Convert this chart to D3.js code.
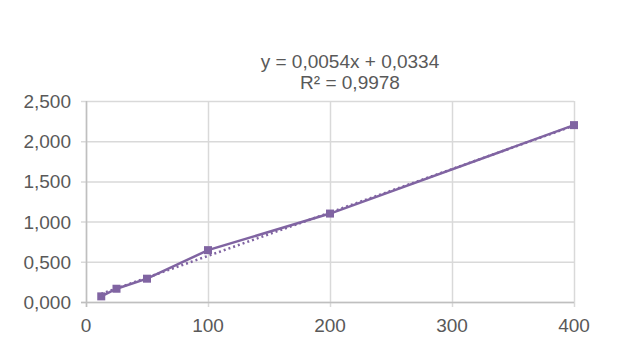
<!DOCTYPE html>
<html>
<head>
<meta charset="utf-8">
<script src="https://cdn.jsdelivr.net/npm/d3@7"></script>
<style>
body{margin:0;background:#fff;}
text{font-family:"Liberation Sans",Arial,sans-serif;}
</style>
</head>
<body>
<div id="chart"></div>
<script>
//Data;
const xVals=[12.5,25,50,100,200,400];
const yVals=[0.07,0.165,0.29,0.645,1.10,2.20];
const xTicks=[0,100,200,300,400];
const yTicks=[0,0.5,1,1.5,2,2.5];
const slope=0.0054, intercept=0.0334;
const eqLines=["y = 0,0054x + 0,0334","R² = 0,9978"];

const w=626, h=363;
const svg=d3.select("#chart").append("svg").attr("width",w).attr("height",h);

const x=d3.scaleLinear().domain([0,400]).range([86,574]);
const y=d3.scaleLinear().domain([0,2.5]).range([302,101]);
const grid="#d9d9d9", col="#8064a2", txt="#595959";

//Gridlines;
svg.selectAll(".hg").data(yTicks).enter().append("line")
	.attr("x1",81).attr("x2",574)
	.attr("y1",d=>y(d)+0.5).attr("y2",d=>y(d)+0.5)
	.attr("stroke",grid).attr("stroke-width",1.5);
svg.selectAll(".vg").data(xTicks).enter().append("line")
	.attr("x1",d=>x(d)+0.5).attr("x2",d=>x(d)+0.5)
	.attr("y1",101).attr("y2",307)
	.attr("stroke",grid).attr("stroke-width",1.5);

//Axis lines;
svg.append("line").attr("x1",x(0)+0.5).attr("x2",x(0)+0.5).attr("y1",101).attr("y2",307)
	.attr("stroke","#bfbfbf").attr("stroke-width",1.5);
svg.append("line").attr("x1",81).attr("x2",574).attr("y1",y(0)+0.5).attr("y2",y(0)+0.5)
	.attr("stroke","#bfbfbf").attr("stroke-width",1.5);

//Tick labels;
const fmt=d=>d3.format(".3f")(d).replace(".",",");
svg.selectAll(".yl").data(yTicks).enter().append("text")
	.attr("x",71).attr("y",d=>y(d)+7)
	.attr("text-anchor","end").attr("font-size",19).attr("fill",txt)
	.text(fmt);
svg.selectAll(".xl").data(xTicks).enter().append("text")
	.attr("x",d=>x(d)).attr("y",332)
	.attr("text-anchor","middle").attr("font-size",19).attr("fill",txt)
	.text(d=>d);

//Trendline;
svg.append("line")
	.attr("x1",x(xVals[0])).attr("y1",y(slope*xVals[0]+intercept))
	.attr("x2",x(xVals[xVals.length-1])).attr("y2",y(slope*xVals[xVals.length-1]+intercept))
	.attr("stroke",col).attr("stroke-width",2.5).attr("stroke-dasharray","2,3");

//Series line;
const pts=xVals.map((v,i)=>[v,yVals[i]]);
svg.append("path").datum(pts)
	.attr("d",d3.line().x(d=>x(d[0])).y(d=>y(d[1])))
	.attr("fill","none").attr("stroke",col).attr("stroke-width",2.5);
svg.selectAll(".mk").data(pts).enter().append("rect")
	.attr("x",d=>x(d[0])-4).attr("y",d=>y(d[1])-4)
	.attr("width",8).attr("height",8).attr("fill",col);

//Equation label;
svg.selectAll(".eq").data(eqLines).enter().append("text")
	.attr("x",350).attr("y",(d,i)=>68+i*21)
	.attr("text-anchor","middle").attr("font-size",19).attr("fill",txt)
	.text(d=>d);
</script>
</body>
</html>
